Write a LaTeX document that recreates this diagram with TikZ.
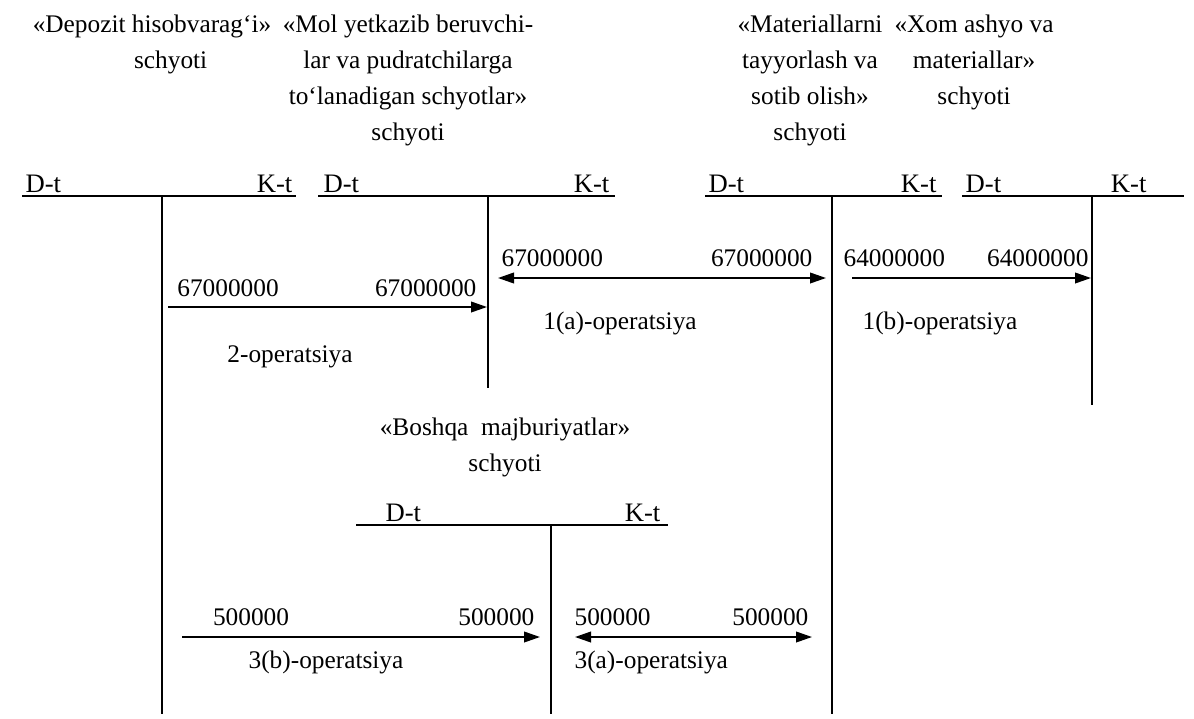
\documentclass[tikz,border=0pt]{standalone}
\usepackage{fontspec}
\setmainfont{Liberation Serif}
\usetikzlibrary{positioning,calc,arrows.meta}

\begin{document}
\begin{tikzpicture}[x=0.75pt,y=-0.75pt,
  acct/.style={align=center,anchor=north,inner sep=0pt,font=\fontsize{19}{27}\selectfont},
  side/.style={inner sep=1pt,anchor=south,font=\fontsize{20}{24}\selectfont},
  sum/.style={inner sep=1pt,anchor=south,font=\fontsize{19}{22}\selectfont},
  oper/.style={inner sep=1pt,font=\fontsize{19}{22}\selectfont},
  hline/.style={line width=1.5pt},
  vline/.style={line width=2pt},
  post/.style={line width=1.3pt,-{Triangle[length=12pt,width=8pt]}},
  post2/.style={line width=1.3pt,{Triangle[length=12pt,width=8pt]}-{Triangle[length=12pt,width=8pt]}}]
\useasboundingbox (0,0) rectangle (1194,718);

% schyotlar nomlari
\node[acct] (dep) at (152,15) {«Depozit hisobvarag‘i»\\\hspace*{28pt}schyoti};
\node[acct] (mol) at (408,15) {«Mol yetkazib beruvchi-\\lar va pudratchilarga\\to‘lanadigan schyotlar»\\schyoti};
\node[acct] (mat) at (810,15) {«Materiallarni\\tayyorlash va\\sotib olish»\\schyoti};
\node[acct] (xom) at (974,15) {«Xom ashyo va\\materiallar»\\schyoti};
\node[acct] (bos) at (505,418) {«Boshqa\ \ majburiyatlar»\\schyoti};

% T-schyotlar
\coordinate (depL) at (22,196);  \coordinate (depR) at (296,196);
\coordinate (depT) at (162,196); \coordinate (depB) at (162,714);
\coordinate (molL) at (318,196); \coordinate (molR) at (615,196);
\coordinate (molT) at (488,196); \coordinate (molB) at (488,388);
\coordinate (matL) at (705,196); \coordinate (matR) at (942,196);
\coordinate (matT) at (832,196); \coordinate (matB) at (832,714);
\coordinate (xomL) at (962,196); \coordinate (xomR) at (1184,196);
\coordinate (xomT) at (1092,196); \coordinate (xomB) at (1092,405);
\coordinate (bosL) at (356,525); \coordinate (bosR) at (668,525);
\coordinate (bosT) at (551,525); \coordinate (bosB) at (551,714);
\draw[hline] (depL) -- (depR);
\draw[vline] (depT) -- (depB);
\draw[hline] (molL) -- (molR);
\draw[vline] (molT) -- (molB);
\draw[hline] (matL) -- (matR);
\draw[vline] (matT) -- (matB);
\draw[hline] (xomL) -- (xomR);
\draw[vline] (xomT) -- (xomB);
\draw[hline] (bosL) -- (bosR);
\draw[vline] (bosT) -- (bosB);
\node[side,anchor=south west] (depD) at ($(depL)+(2,-2)$) {D-t};
\node[side,anchor=south east] (depK) at ($(depR)+(-2,-2)$) {K-t};
\node[side,anchor=south west] (molD) at ($(molL)+(4,-2)$) {D-t};
\node[side,anchor=south east] (molK) at ($(molR)+(-4,-2)$) {K-t};
\node[side,anchor=south west] (matD) at ($(matL)+(2,-2)$) {D-t};
\node[side,anchor=south east] (matK) at ($(matR)+(-4,-2)$) {K-t};
\node[side,anchor=south west] (xomD) at ($(xomL)+(2,-2)$) {D-t};
\node[side,anchor=south east] (xomK) at ($(xomR)+(-36,-2)$) {K-t};
\node[side,anchor=south west] (bosD) at ($(bosL)+(28,-2)$) {D-t};
\node[side,anchor=south east] (bosK) at ($(bosR)+(-6,-2)$) {K-t};

% 1(a)-operatsiya
\coordinate (a1s) at (498,278); \coordinate (a1e) at (826,278);
\draw[post2] (a1s) -- (a1e);
\node[sum,anchor=south west] (a1n) at (500,268) {67000000};
\node[sum,anchor=south east] (a1m) at (814,268) {67000000};
\node[oper] (a1l) at (620,323) {1(a)-operatsiya};

% 1(b)-operatsiya
\coordinate (b1s) at (852,278); \coordinate (b1e) at (1091,278);
\draw[post] (b1s) -- (b1e);
\node[sum,anchor=south west] (b1n) at (842,268) {64000000};
\node[sum,anchor=south east] (b1m) at (1090,268) {64000000};
\node[oper] (b1l) at (940,323) {1(b)-operatsiya};

% 2-operatsiya
\coordinate (o2s) at (168,307); \coordinate (o2e) at (487,307);
\draw[post] (o2s) -- (o2e);
\node[sum] (o2n) at (228,298) {67000000};
\node[sum,anchor=south east] (o2m) at (478,298) {67000000};
\node[oper] (o2l) at (290,357) {2-operatsiya};

% 3(b)-operatsiya
\coordinate (b3s) at (182,637); \coordinate (b3e) at (540,637);
\draw[post] (b3s) -- (b3e);
\node[sum] (b3n) at (251,627) {500000};
\node[sum,anchor=south east] (b3m) at (536,627) {500000};
\node[oper] (b3l) at (326,662) {3(b)-operatsiya};

% 3(a)-operatsiya
\coordinate (a3s) at (575,637); \coordinate (a3e) at (812,637);
\draw[post2] (a3s) -- (a3e);
\node[sum,anchor=south west] (a3n) at (573,627) {500000};
\node[sum,anchor=south east] (a3m) at (810,627) {500000};
\node[oper,anchor=west] (a3l) at (573,662) {3(a)-operatsiya};
\end{tikzpicture}
\end{document}
